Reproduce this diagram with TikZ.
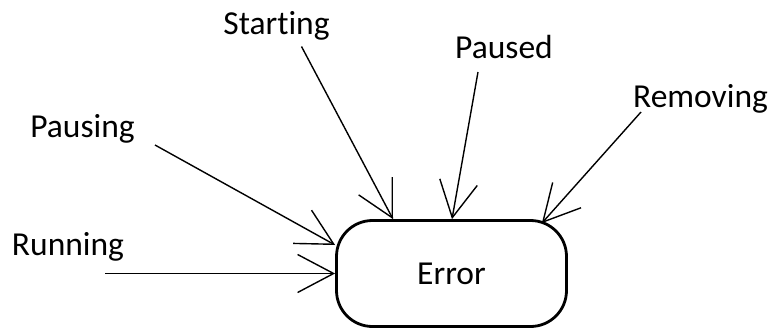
\documentclass[tikz,border=0pt]{standalone}
\usepackage{fontspec}
\setmainfont[Ligatures={NoCommon}]{Carlito}
\usetikzlibrary{arrows.meta}

\tikzset{
  label/.style={inner sep=0pt, anchor=base, font=\fontsize{33.5}{40}\selectfont},
  statebox/.style={draw, line width=2.8pt, rounded corners=36pt,
    minimum width=230pt, minimum height=106pt, inner sep=0pt,
    font=\fontsize{33.5}{40}\selectfont},
  trans/.style={line width=1.4pt,
    -{Straight Barb[length=36pt,width=38pt,line width=1.4pt]}},
}

\begin{document}
\begin{tikzpicture}[x=1pt,y=-1pt]
  \useasboundingbox (0,0) rectangle (774,330);

  % the error state
  \node[statebox] (err) at (451.5,273.5) {Error};

  % source states
  \node[label] (starting) at (276.5,34) {Starting};
  \node[label] (paused)   at (504,58)   {Paused};
  \node[label] (removing) at (700.5,107) {Removing};
  \node[label] (pausing)  at (82.5,137) {Pausing};
  \node[label] (running)  at (68,255)   {Running};

  % tails of the transitions, just below each label
  \coordinate (startingTail) at (301.5,46.5);
  \coordinate (pausedTail)   at (478,72);
  \coordinate (removingTail) at (641,112);
  \coordinate (pausingTail)  at (155,145);
  \coordinate (runningTail)  at (105,273.5);

  % transitions into the error state
  \draw[trans] (startingTail) -- ([xshift=-58.5pt]err.north);
  \draw[trans] (pausedTail)   -- ([xshift=0.5pt]err.north);
  \draw[trans] (removingTail) -- ([xshift=-26pt,yshift=-4pt]err.north east);
  \draw[trans] (pausingTail)  -- ([yshift=28.5pt]err.west);
  \draw[trans] (runningTail)  -- (err.west);
\end{tikzpicture}
\end{document}
